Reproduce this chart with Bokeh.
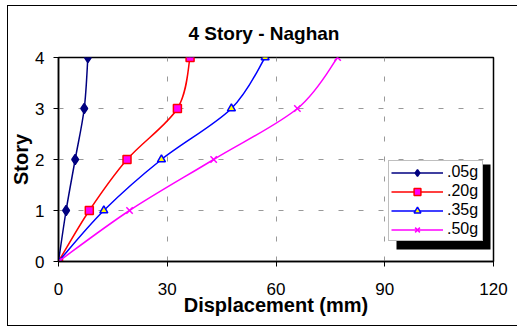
from bokeh.plotting import figure
from bokeh.models import (Range1d, Legend, LegendItem, BoxAnnotation, FixedTicker,
                          ColumnDataSource, Title, InlineStyleSheet)
from bokeh.embed import file_html
from bokeh.resources import INLINE

# ---- data ----
story = [0, 1, 2, 3, 4]
disp_005 = [0, 2.1, 4.6, 7.1, 8.1]
disp_020 = [0, 8.5, 18.9, 32.8, 36.3]
disp_035 = [0, 12.5, 28.4, 47.7, 57.0]
disp_050 = [0, 19.6, 42.8, 65.9, 77.0]
series_labels = [".05g", ".20g", ".35g", ".50g"]
x_ticks = [0, 30, 60, 90, 120]
y_ticks = [0, 1, 2, 3, 4]

FONT = "Liberation Sans"

p = figure(width=517, height=331, x_range=Range1d(0, 120), y_range=Range1d(0, 4),
           output_backend="svg", toolbar_location=None,
           min_border_left=58, min_border_right=24, min_border_top=57, min_border_bottom=70)
p.background_fill_color = "white"
p.border_fill_color = "white"
p.outline_line_color = "black"
p.outline_line_width = 1.5

# outer chart-area border (drawn with CSS so it can sit outside the plot frame)
p.stylesheets = [InlineStyleSheet(css="""
:host::after {
  content: "";
  position: absolute;
  left: 7px; top: 5px; width: 520px; height: 321px;
  border: 1.5px solid black;
  border-right: none;
  box-sizing: border-box;
  pointer-events: none;
  z-index: 10;
}
""")]

title = Title(text="4 Story - Naghan", align="left", offset=130,
              text_font=FONT, text_font_size="19px", text_font_style="bold",
              text_color="black", standoff=27)
p.add_layout(title, "above")

for ax in (p.xaxis[0], p.yaxis[0]):
    ax.axis_line_color = "black"
    ax.axis_line_width = 1.5
    ax.major_tick_line_color = "black"
    ax.major_tick_out = 5
    ax.major_tick_in = 0
    ax.minor_tick_line_color = None
    ax.major_label_text_font = FONT
    ax.major_label_text_font_size = "17px"
    ax.major_label_text_color = "black"
    ax.axis_label_text_font = FONT
    ax.axis_label_text_font_size = "20px"
    ax.axis_label_text_font_style = "bold"
    ax.axis_label_text_color = "black"

p.xaxis[0].ticker = FixedTicker(ticks=x_ticks)
p.yaxis[0].ticker = FixedTicker(ticks=y_ticks)
p.xaxis[0].axis_label = "Displacement (mm)"
p.yaxis[0].axis_label = "Story"
p.xaxis[0].major_label_standoff = 16
p.xaxis[0].axis_label_standoff = -4
p.yaxis[0].major_label_standoff = 9
p.yaxis[0].axis_label_standoff = 0

for g in (p.xgrid[0], p.ygrid[0]):
    g.grid_line_color = "#999999"
    g.grid_line_dash = "5 15"
    g.grid_line_width = 1
p.xgrid[0].ticker = FixedTicker(ticks=x_ticks)
p.ygrid[0].ticker = FixedTicker(ticks=y_ticks)


def smooth_source(xs, ys):
    n = len(xs)
    d = dict(x0=[], y0=[], x1=[], y1=[], cx0=[], cy0=[], cx1=[], cy1=[])
    for i in range(n - 1):
        a = max(i - 1, 0)
        b = min(i + 2, n - 1)
        d["x0"].append(xs[i]); d["y0"].append(ys[i])
        d["x1"].append(xs[i + 1]); d["y1"].append(ys[i + 1])
        d["cx0"].append(xs[i] + (xs[i + 1] - xs[a]) / 6)
        d["cy0"].append(ys[i] + (ys[i + 1] - ys[a]) / 6)
        d["cx1"].append(xs[i + 1] - (xs[b] - xs[i]) / 6)
        d["cy1"].append(ys[i + 1] - (ys[b] - ys[i]) / 6)
    return ColumnDataSource(d)


styles = [
    dict(color="#000080", marker="diamond", size=10, fill="#000080"),
    dict(color="#FF0000", marker="square", size=8, fill="#FF00FF"),
    dict(color="#0000FF", marker="triangle", size=8, fill="#FFFF00"),
    dict(color="#FF00FF", marker="x", size=9, fill="#FF00FF"),
]
all_disp = [disp_005, disp_020, disp_035, disp_050]

items = []
for lab, xs, st in zip(series_labels, all_disp, styles):
    src = smooth_source(xs, story)
    r_line = p.bezier(x0="x0", y0="y0", x1="x1", y1="y1", cx0="cx0", cy0="cy0",
                      cx1="cx1", cy1="cy1", source=src, line_color=st["color"], line_width=1.5)
    r_mk = p.scatter(x=xs, y=story, marker=st["marker"], size=st["size"],
                     line_color=st["color"], fill_color=st["fill"], line_width=1.5)
    items.append(LegendItem(label=lab, renderers=[r_line, r_mk]))

shadow = BoxAnnotation(left=396, right=490, top=164, bottom=249,
                       left_units="canvas", right_units="canvas",
                       top_units="canvas", bottom_units="canvas",
                       fill_color="black", fill_alpha=1, line_color=None, level="glyph")
p.add_layout(shadow)

legend = Legend(items=items, location=(330, 20),
                label_text_font=FONT, label_text_font_size="16px", label_text_color="black",
                glyph_width=52, glyph_height=17, label_height=17, label_width=33,
                spacing=1, padding=2,
                label_standoff=4, border_line_color="#808080", border_line_width=1,
                background_fill_color="white", background_fill_alpha=1, margin=0)
p.add_layout(legend)

open("out.html", "w").write(file_html(p, INLINE))
